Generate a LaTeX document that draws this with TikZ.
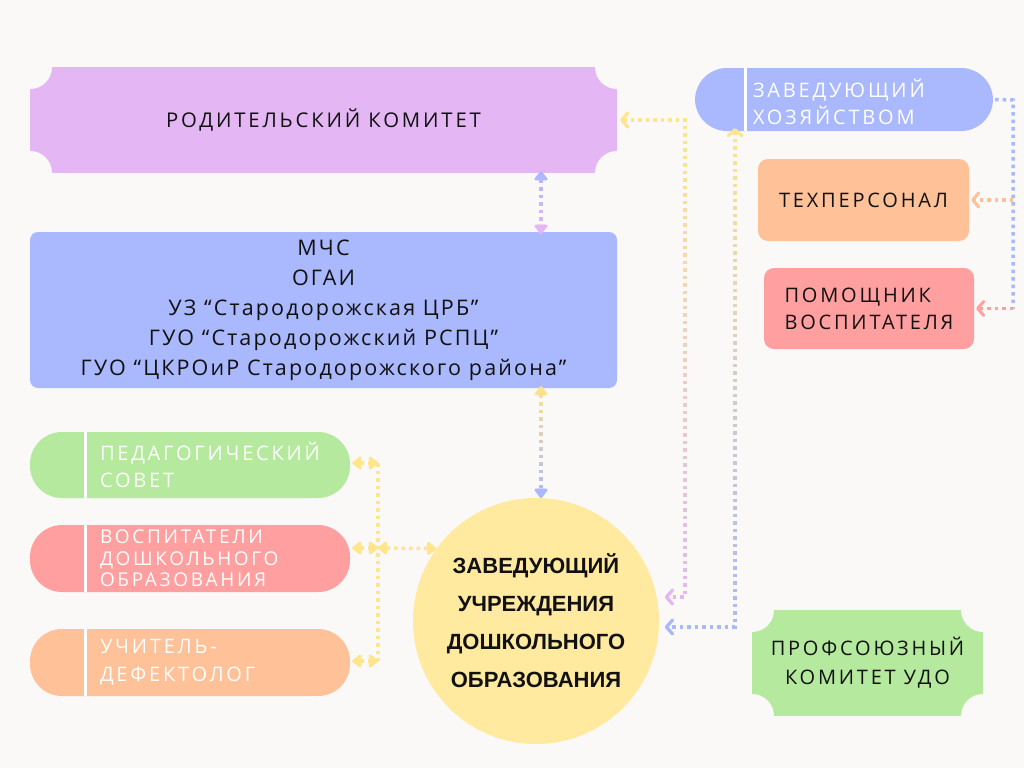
\documentclass[tikz,border=0pt]{standalone}
\usepackage{fontspec}
\setmainfont{Open Sans}
\newfontfamily\trk{Open Sans}[LetterSpace=14]
\newfontfamily\tmid{Open Sans}[LetterSpace=10]
\newfontfamily\tbold{Liberation Sans}
\usetikzlibrary{arrows.meta,fadings}
\definecolor{bg}{HTML}{FAF9F7}
\definecolor{cpurple}{HTML}{E4B7F4}
\definecolor{cblue}{HTML}{AAB8FE}
\definecolor{cgreen}{HTML}{B5E99D}
\definecolor{cpink}{HTML}{FF9F9F}
\definecolor{corange}{HTML}{FFC198}
\definecolor{cyellow}{HTML}{FFEA9F}
\definecolor{lyellow}{HTML}{FFE58C}
\definecolor{ink}{HTML}{111111}
\tikzfading[name=fadein, top color=transparent!100, bottom color=transparent!0]
\tikzset{
  x=1pt, y=-1pt,
  conn/.style={line width=3.5pt, dash pattern=on 3.5pt off 4pt},
  tri/.tip={Triangle[length=10pt,width=15pt,round]},
  chev/.tip={Straight Barb[length=6pt,width=14pt,line width=3pt,round]},
  ticket/.style={rectangle, inner sep=0pt, text=ink,
    path picture={\foreach \a in {north west,north east,south west,south east}
      \fill[bg] (path picture bounding box.\a) circle (22pt);}},
  pill/.style={rectangle, rounded corners=32pt, inner sep=0pt,
    path picture={\draw[white, line width=3pt]
      ([xshift=#1]path picture bounding box.south west) --
      ([xshift=#1]path picture bounding box.north west);}},
  box/.style={rectangle, rounded corners=10pt, inner sep=0pt, text=ink},
  ptext/.style={anchor=west, inner sep=0pt, align=left, text=white},
  wide/.style={font=\trk\fontsize{20}{#1}\selectfont},
}
\begin{document}
\begin{tikzpicture}
\fill[bg] (0,0) rectangle (1024,768);
\useasboundingbox (0,0) rectangle (1024,768);

% main boxes
\node[ticket, fill=cpurple, minimum width=587pt, minimum height=106pt, font=\trk\fontsize{20.3}{27}\selectfont] (rk) at (323.5,120)
  {РОДИТЕЛЬСКИЙ КОМИТЕТ};
\node[box, fill=cblue, rounded corners=8pt, minimum width=587pt, minimum height=156pt, align=center,
  font=\tmid\fontsize{21.5}{30}\selectfont] (mchs) at (323.5,310)
  {МЧС\\ОГАИ\\УЗ “Стародорожская ЦРБ”\\ГУО “Стародорожский РСПЦ”\\ГУО “ЦКРОиР Стародорожского района”};

% right side
\node[pill=50pt, fill=cblue, minimum width=298pt, minimum height=63pt] (zx) at (844,99.5) {};
\node[ptext, wide=27pt] (zxt) at ([xshift=58pt,yshift=-2pt]zx.west)
  {ЗАВЕДУЮЩИЙ\\ХОЗЯЙСТВОМ};
\node[box, fill=corange, minimum width=211pt, minimum height=82pt, wide=27pt] (tp) at (863.5,200)
  {ТЕХПЕРСОНАЛ};
\node[box, fill=cpink, minimum width=210pt, minimum height=81pt, align=left, wide=27pt] (pv) at (869,308.5)
  {ПОМОЩНИК\\ВОСПИТАТЕЛЯ};
\node[ticket, fill=cgreen, minimum width=231pt, minimum height=106pt, align=center, wide=29pt] (pk) at (867.5,663)
  {ПРОФСОЮЗНЫЙ\\КОМИТЕТ УДО};

% left pills
\node[pill=55pt, fill=cgreen, minimum width=320pt, minimum height=66pt] (ps) at (190,465) {};
\node[ptext, wide=27pt] (pst) at ([xshift=70pt]ps.west)
  {ПЕДАГОГИЧЕСКИЙ\\СОВЕТ};
\node[pill=55pt, fill=cpink, minimum width=320pt, minimum height=67pt] (vd) at (190,558.5) {};
\node[ptext, font=\trk\fontsize{19}{21.5}\selectfont] (vdt) at ([xshift=70pt]vd.west)
  {ВОСПИТАТЕЛИ\\ДОШКОЛЬНОГО\\ОБРАЗОВАНИЯ};
\node[pill=55pt, fill=corange, minimum width=320pt, minimum height=67pt] (ud) at (190,662.5) {};
\node[ptext, wide=28pt] (udt) at ([xshift=70pt]ud.west)
  {УЧИТЕЛЬ-\\ДЕФЕКТОЛОГ};

% circle
\node[circle, fill=cyellow, minimum size=246pt, inner sep=0pt, align=center, text=ink,
  font=\tbold\bfseries\fontsize{22}{38}\selectfont] (circ) at (536,621)
  {ЗАВЕДУЮЩИЙ\\УЧРЕЖДЕНИЯ\\ДОШКОЛЬНОГО\\ОБРАЗОВАНИЯ};

% connectors
\draw[conn, cblue, {tri[color=cblue]}-{tri[color=cpurple]}] ([xshift=217.5pt,yshift=2pt]rk.south) -- ([xshift=217.5pt,yshift=-2pt]mchs.north);
\draw[conn, cpurple, path fading=fadein, {tri}-{tri}] ([xshift=217.5pt,yshift=2pt]rk.south) -- ([xshift=217.5pt,yshift=-2pt]mchs.north);

\draw[conn, lyellow, {tri}-{tri[color=cblue]}] ([xshift=217.5pt,yshift=2pt]mchs.south) -- ([xshift=217.5pt]mchs.south |- circ.north);
\draw[conn, cblue, path fading=fadein, {tri}-{tri}] ([xshift=217.5pt,yshift=2pt]mchs.south) -- ([xshift=217.5pt]mchs.south |- circ.north);

\coordinate (bt) at (378,463);
\coordinate (bm) at (378,548);
\coordinate (bb) at (378,661);
\draw[conn, lyellow] (bt) -- (bb);
\draw[conn, lyellow, {tri}-{tri}] ([xshift=2pt]ps.east |- bt) -- (bt);
\draw[conn, lyellow, {tri}-{tri}] ([xshift=2pt]vd.east |- bm) -- (bm);
\draw[conn, lyellow, {tri}-{tri}] ([xshift=2pt]ud.east |- bb) -- (bb);
\draw[conn, lyellow, {tri}-{tri}] (bm) -- (circ.144);

\coordinate (k1) at (685,120);
\coordinate (e1) at (665,597);
\draw[conn, lyellow, {chev}-{chev[color=cpurple]}] ([xshift=3pt]rk.east) -- (k1) -- (k1 |- e1) -- (e1);
\draw[conn, cpurple, path fading=fadein, {chev}-{chev}] ([xshift=3pt]rk.east) -- (k1) -- (k1 |- e1) -- (e1);

\coordinate (e2) at (665,627);
\draw[conn, lyellow, {chev}-{chev[color=cblue]}] ([xshift=-109pt,yshift=3pt]zx.south) -- ([xshift=-109pt]zx.south |- e2) -- (e2);
\draw[conn, cblue, path fading=fadein, {chev}-{chev}] ([xshift=-109pt,yshift=3pt]zx.south) -- ([xshift=-109pt]zx.south |- e2) -- (e2);

\coordinate (k3) at (1013,100);
\draw[conn, cblue] ([xshift=2pt]zx.east) -- (k3) -- (k3 |- pv.east);
\draw[conn, corange, -{chev}] (k3 |- tp.east) -- ([xshift=2pt]tp.east);
\draw[conn, cpink, -{chev}] (k3 |- pv.east) -- ([xshift=2pt]pv.east);
\end{tikzpicture}
\end{document}
